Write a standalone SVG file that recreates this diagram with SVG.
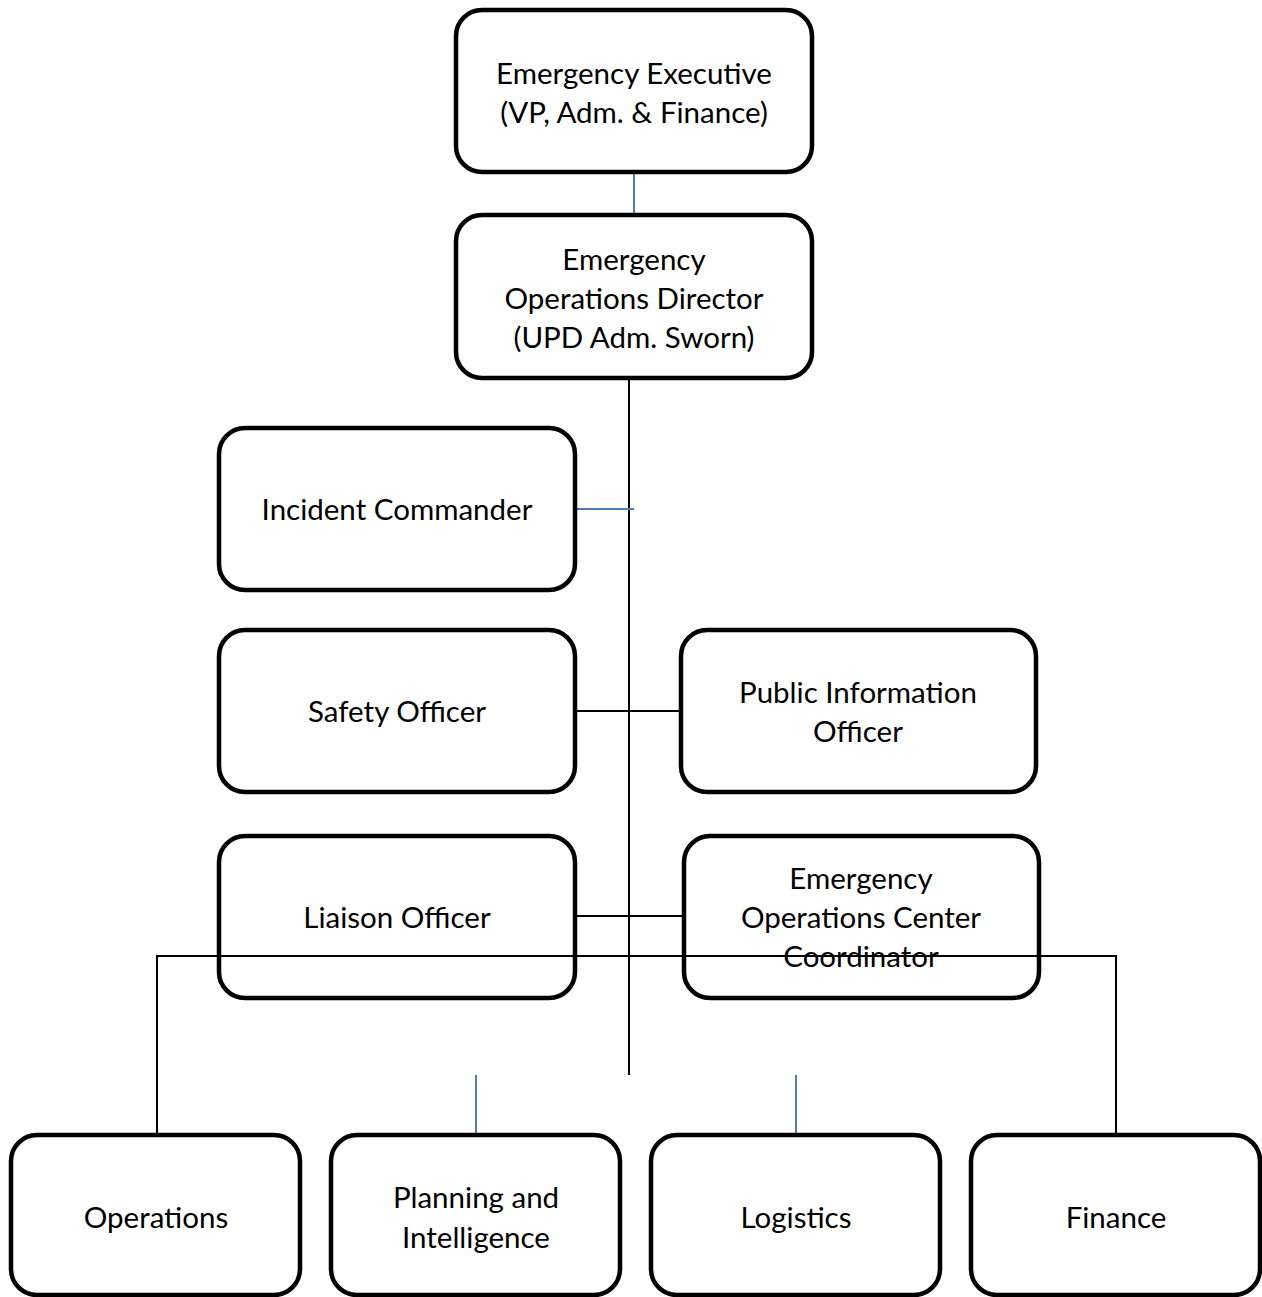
<svg xmlns="http://www.w3.org/2000/svg" width="1262" height="1297" viewBox="0 0 1262 1297">
<style>
.box{fill:none;stroke:#000;stroke-width:4.5}
.t{font-family:Lato,"Open Sans","Liberation Sans",sans-serif;font-size:29.5px;fill:#000;text-anchor:middle}
.k{stroke:#000;stroke-width:2;fill:none}
.b{stroke:#4a7ebb;stroke-width:2;fill:none}
</style>
<rect width="1262" height="1297" fill="#fff"/>
<g id="connectors">
<line class="b" x1="634" y1="172" x2="634" y2="215"/>
<line class="k" x1="629" y1="376" x2="629" y2="1075"/>
<line class="b" x1="575" y1="509" x2="634" y2="509"/>
<line class="k" x1="575" y1="711" x2="681" y2="711"/>
<line class="k" x1="575" y1="916" x2="684" y2="916"/>
<polyline class="k" points="157,1135 157,956 1116,956 1116,1135"/>
<line class="b" x1="476" y1="1075" x2="476" y2="1135"/>
<line class="b" x1="796" y1="1075" x2="796" y2="1135"/>
</g>
<g id="emergency-executive">
<rect class="box" x="456" y="10" width="356" height="162" rx="26"/>
<text class="t" x="634" y="84">Emergency Executive</text>
<text class="t" x="634" y="123">(VP, Adm. &amp; Finance)</text>
</g>
<g id="eod">
<rect class="box" x="456" y="215" width="356" height="163" rx="26"/>
<text class="t" x="634" y="270">Emergency</text>
<text class="t" x="634" y="309">Operations Director</text>
<text class="t" x="634" y="348">(UPD Adm. Sworn)</text>
</g>
<g id="incident-commander">
<rect class="box" x="219" y="428" width="356" height="162" rx="26"/>
<text class="t" x="397" y="520">Incident Commander</text>
</g>
<g id="safety-officer">
<rect class="box" x="219" y="630" width="356" height="162" rx="26"/>
<text class="t" x="397" y="722">Safety Officer</text>
</g>
<g id="pio">
<rect class="box" x="681" y="630" width="355" height="162" rx="26"/>
<text class="t" x="858" y="703">Public Information</text>
<text class="t" x="858" y="742">Officer</text>
</g>
<g id="liaison-officer">
<rect class="box" x="219" y="836" width="356" height="162" rx="26"/>
<text class="t" x="397" y="928">Liaison Officer</text>
</g>
<g id="eoc-coordinator">
<rect class="box" x="684" y="836" width="355" height="162" rx="26"/>
<text class="t" x="861" y="889">Emergency</text>
<text class="t" x="861" y="928">Operations Center</text>
<text class="t" x="861" y="967">Coordinator</text>
</g>
<g id="operations">
<rect class="box" x="11" y="1135" width="289" height="160" rx="26"/>
<text class="t" x="156" y="1228">Operations</text>
</g>
<g id="planning">
<rect class="box" x="331" y="1135" width="289" height="160" rx="26"/>
<text class="t" x="476" y="1208">Planning and</text>
<text class="t" x="476" y="1248">Intelligence</text>
</g>
<g id="logistics">
<rect class="box" x="651" y="1135" width="289" height="160" rx="26"/>
<text class="t" x="796" y="1228">Logistics</text>
</g>
<g id="finance">
<rect class="box" x="971" y="1135" width="289" height="160" rx="26"/>
<text class="t" x="1116" y="1228">Finance</text>
</g>
</svg>
